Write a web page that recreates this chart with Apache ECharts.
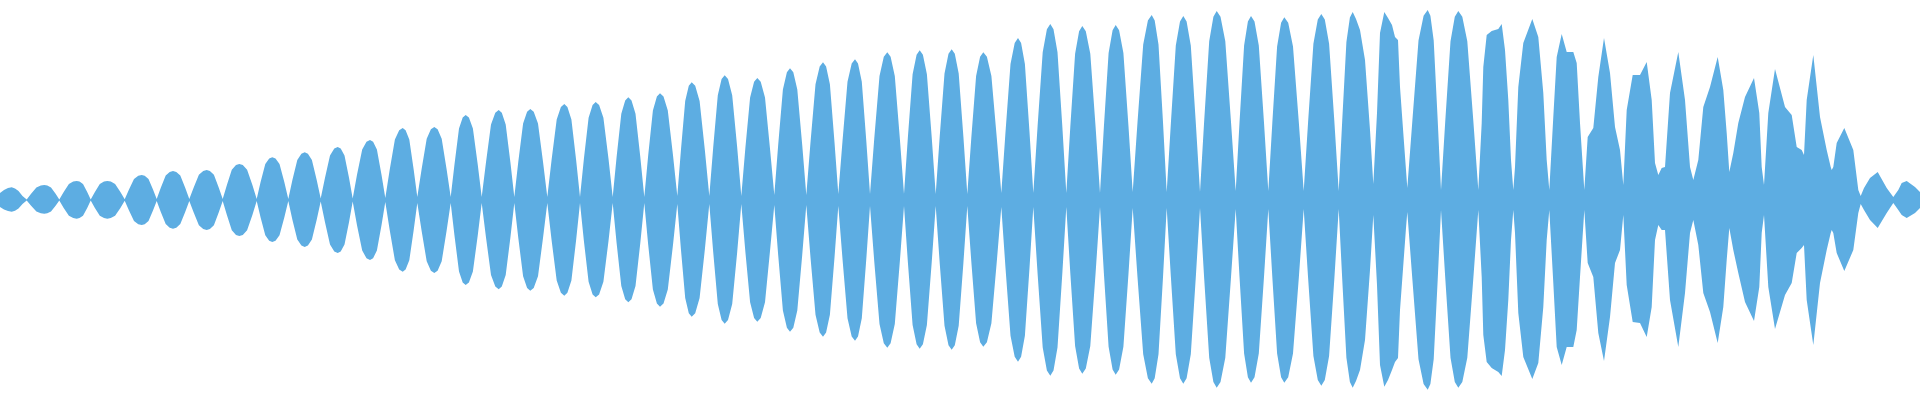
<!DOCTYPE html>
<html><head><meta charset="utf-8">
<style>html,body{margin:0;padding:0;background:#fff}#c{width:1920px;height:400px}</style>
<script src="https://cdn.jsdelivr.net/npm/echarts@6/dist/echarts.min.js"></script>
</head><body><div id="c"></div>
<script>
const sampleX = [
0,4,8,11.7,15,18.5,22.5,
26.7,31.1,36.4,40.8,44.3,47.3,51,55.6,
59.3,63.7,68.9,73.2,76.7,79.5,83,87.2,
90.7,94.9,99.8,104,107.3,110.8,115.1,120.4,
124.7,129,134,138.3,141.7,144.7,148.5,153,
156.7,160.8,165.7,169.7,173,176.3,180.3,185.2,
189.3,193.7,198.9,203.2,206.7,209.9,213.9,218.7,
222.7,226.9,231.8,236,239.3,242.8,247.1,252.4,
256.7,260.6,265.3,269.2,272.3,275.5,279.5,284.3,
288.3,292.4,297.3,301.4,304.7,307.9,311.9,316.7,
320.7,325,330,334.3,337.7,340.7,344.5,349,
352.7,357,362.2,366.5,370,373.1,376.9,381.5,
385.3,389.7,394.9,399.2,402.7,405.6,409.3,413.7,
417.3,421.6,426.7,430.9,434.3,437.6,441.7,446.6,
450.7,454.5,459,462.7,465.7,468.9,472.9,477.7,
481.7,486,491,495.3,498.7,501.8,505.7,510.4,
514.3,518.3,523.1,527.1,530.3,533.7,538,543,
547.3,551.6,556.7,560.9,564.3,567.4,571.4,576.1,
580,583.9,588.6,592.6,595.7,599.1,603.4,608.5,
612.7,616.6,621.3,625.2,628.3,631.5,635.5,640.3,
644.3,648.2,652.9,656.9,660,663.5,667.8,673,
677.3,680.9,685.2,688.8,691.7,695.2,699.6,704.9,
709.3,713.2,717.8,721.6,724.7,728,732.2,737.2,
741.3,745.3,750.1,754.1,757.3,760.7,765,770,
774.3,778.2,782.9,786.9,790,793.3,797.3,802.2,
806.3,810.5,815.5,819.7,823,826.1,829.9,834.5,
838.3,842.5,847.5,851.7,855,858,861.8,866.3,
870,874.3,879.5,883.8,887.3,890.6,894.8,899.8,
904,907.9,912.6,916.6,919.7,922.9,926.9,931.7,
935.7,939.7,944.5,948.5,951.7,954.8,958.7,963.4,
967.3,971.3,976.1,980.1,983.3,986.9,991.4,996.8,
1001.3,1005.5,1010.5,1014.7,1018,1021.1,1024.9,1029.5,
1033.3,1037.6,1042.7,1046.9,1050.3,1053.5,1057.5,1062.3,
1066.3,1070.3,1075.1,1079.1,1082.3,1085.8,1090.3,1095.6,
1100,1103.9,1108.6,1112.6,1115.7,1119.1,1123.4,1128.5,
1132.7,1137.5,1143.2,1147.9,1151.7,1154.7,1158.5,1163,
1166.7,1170.9,1175.8,1180,1183.3,1186.6,1190.8,1195.8,
1200,1204.2,1209.2,1213.4,1216.7,1220.5,1225.3,1230.9,
1235.7,1239.5,1244.1,1247.9,1251,1254.5,1258.8,1264,
1268.3,1272.3,1277.1,1281.1,1284.3,1288.2,1293,1298.9,
1303.7,1308.1,1313.4,1317.8,1321.3,1324.8,1329.1,1334.4,
1338.7,1342.2,1346.4,1349.9,1352.7,1356,1360,1365,1370,
1373.3,1377,1380,1384.3,1388,1392,1395,1398,1400,1403.3,1406,
1407.3,1412.4,1418.5,1423.6,1427.7,1430.4,1433.7,1437.7,
1441,1445.3,1450.5,1454.8,1458.3,1462.3,1467.3,1473.3,
1478.3,1481.7,1483.3,1486.7,1491.7,1498.3,1501.7,1505,1508.3,1511,
1513.3,1515,1518.3,1523.3,1532.3,1538.3,1543.3,1546.7,
1549.3,1553.3,1556.7,1561.7,1566.7,1573.3,1576.7,1580,
1584.3,1587.7,1593.3,1598.3,1604,1610,1615,1620,
1623.3,1626.7,1632.7,1640,1646.7,1651.7,1655,
1658.3,1661.7,1665,1670,1678.3,1685,1690,
1693.3,1698.3,1703.3,1710,1717.7,1723.3,1726.7,
1729.3,1733.3,1738.3,1745,1754,1759.3,1761.7,
1764,1768.3,1775,1785,1791.7,1796.7,1801.7,1804,
1806.7,1813.3,1820,1826.7,1830.7,
1831.7,1833.3,1836.7,1844.3,1853.3,1858.3,
1860.7,1864,1870,1877.7,1886.7,1893.3,
1894.5,1898.3,1901.7,1906.7,1915,1920
];
const upperEnvelope = [
7,10,12,12.7,11.5,9,4,
0.5,6.3,12.6,14.6,15,14.6,12.6,6.3,
0.5,8,16,18.4,19,18.4,16,8,
0.5,8,16,18.4,19,18.4,16,8,
0.7,10.5,21,24.3,25,24.3,21,10.5,
1,12.2,24.4,28.1,29,28.1,24.4,12.2,
1,12.6,25.2,29.1,30,29.1,25.2,12.6,
1,15.1,30.2,34.9,36,34.9,30.2,15.1,
1,17.9,35.9,41.4,42.7,41.4,35.9,17.9,
1,20,40.1,46.3,47.7,46.3,40.1,20,
1.5,22.3,44.5,51.4,53,51.4,44.5,22.3,
1.5,25.2,50.4,58.2,60,58.2,50.4,25.2,
2,30.2,60.5,69.8,72,69.8,60.5,30.2,
3,30.7,61.3,70.8,73,70.8,61.3,30.7,
3,35.7,71.4,82.5,85,82.5,71.4,35.7,
3,37.8,75.6,87.3,90,87.3,75.6,37.8,
3,38.2,76.4,88.3,91,88.3,76.4,38.2,
3,40.3,80.6,93.1,96,93.1,80.6,40.3,
3,41.2,82.3,95.1,98,95.1,82.3,41.2,
3,43.1,86.3,99.6,102.7,99.6,86.3,43.1,
3,44.8,89.6,103.5,106.7,103.5,89.6,44.8,
4,49.4,98.9,114.2,117.7,114.2,98.9,49.4,
4,52.4,104.7,121,124.7,121,104.7,52.4,
4,51.2,102.5,118.3,122,118.3,102.5,51.2,
5,55.3,110.6,127.7,131.7,127.7,110.6,55.3,
5,57.8,115.7,133.6,137.7,133.6,115.7,57.8,
6,59.1,118.2,136.5,140.7,136.5,118.2,59.1,
6,62,124.1,143.3,147.7,143.3,124.1,62,
6,62.9,125.7,145.2,149.7,145.2,125.7,62.9,
6,63.3,126.6,146.2,150.7,146.2,126.6,63.3,
6,62,124.1,143.3,147.7,143.3,124.1,62,
7,68,136.1,157.1,162,157.1,136.1,68,
7,73.9,147.8,170.7,176,170.7,147.8,73.9,
7,73.1,146.2,168.8,174,168.8,146.2,73.1,
7,73.5,147,169.8,175,169.8,147,73.5,
8,77.7,155.4,179.5,185,179.5,155.4,77.7,
8,77.3,154.6,178.5,184,178.5,154.6,77.3,
8,79.4,158.8,183.3,189,183.3,158.8,79.4,
9,77.3,154.6,178.5,184,178.5,154.6,77.3,
9,76.7,153.5,177.2,182.7,177.2,153.5,76.7,
9,78.1,156.2,180.4,186,180.4,156.2,78.1,
9,79,157.9,182.4,188,181,170,140,70,
16,87,167,188,182,175,163,160,113,67,30,
12,79.8,159.6,184.3,190,184.3,159.6,79.8,
10,79.4,158.8,183.3,189,183.3,158.8,79.4,
10,77,133,165,169,171,176,150,100,40,
10,33,113,157,181,163,107,40,
10,83,143,166,148,148,137,77,
10,63,72,123,162,127,73,50,
15,90,125,125,138,100,37,
25,32,33,107,148,100,33,
20,40,93,113,143,110,67,
28,47,77,103,122,87,33,
15,87,131,93,85,53,50,45,
100,145,83,50,33,
30,33,57,72,50,10,
4,12,22,28,12,3,
2,10,17,19,13,8
];
const lowerEnvelope = [
7,9.5,11,11.7,10.8,8.5,4,
0.5,5.8,11.5,13.3,13.7,13.3,11.5,5.8,
0.5,7.9,15.7,18.1,18.7,18.1,15.7,7.9,
0.5,7.9,15.7,18.1,18.7,18.1,15.7,7.9,
0.7,10.5,21,24.3,25,24.3,21,10.5,
1,12.1,24.1,27.8,28.7,27.8,24.1,12.1,
1,12.6,25.2,29.1,30,29.1,25.2,12.6,
1,15.1,30.2,34.9,36,34.9,30.2,15.1,
1,17.6,35.3,40.7,42,40.7,35.3,17.6,
1,19.7,39.5,45.6,47,45.6,39.5,19.7,
1.5,22.3,44.5,51.4,53,51.4,44.5,22.3,
1.5,25.2,50.4,58.2,60,58.2,50.4,25.2,
2,30.1,60.2,69.5,71.7,69.5,60.2,30.1,
3,30.7,61.3,70.8,73,70.8,61.3,30.7,
3,35.7,71.4,82.5,85,82.5,71.4,35.7,
3,37.5,75,86.6,89.3,86.6,75,37.5,
3,38.1,76.2,88,90.7,88,76.2,38.1,
3,40.2,80.4,92.8,95.7,92.8,80.4,40.2,
3,40.9,81.7,94.4,97.3,94.4,81.7,40.9,
3,43,85.9,99.2,102.3,99.2,85.9,43,
3,44.8,89.6,103.5,106.7,103.5,89.6,44.8,
4,49,98,113.2,116.7,113.2,98,49,
4,52,103.9,120,123.7,120,103.9,52,
4,51.1,102.2,118,121.7,118,102.2,51.1,
5,55.3,110.6,127.7,131.7,127.7,110.6,55.3,
5,57.4,114.8,132.6,136.7,132.6,114.8,57.4,
6,59.1,118.2,136.5,140.7,136.5,118.2,59.1,
6,62,124.1,143.3,147.7,143.3,124.1,62,
6,62.5,124.9,144.2,148.7,144.2,124.9,62.5,
6,62.9,125.7,145.2,149.7,145.2,125.7,62.9,
6,61.6,123.2,142.3,146.7,142.3,123.2,61.6,
7,67.9,135.8,156.8,161.7,156.8,135.8,67.9,
7,73.8,147.6,170.4,175.7,170.4,147.6,73.8,
7,73,145.9,168.5,173.7,168.5,145.9,73,
7,73.4,146.7,169.5,174.7,169.5,146.7,73.4,
8,77.2,154.3,178.2,183.7,178.2,154.3,77.2,
8,77.2,154.3,178.2,183.7,178.2,154.3,77.2,
8,78.8,157.7,182.1,187.7,182.1,157.7,78.8,
9,76.7,153.5,177.2,182.7,177.2,153.5,76.7,
9,76.7,153.5,177.2,182.7,177.2,153.5,76.7,
9,78,156,180.1,185.7,180.1,156,78,
9,78.8,157.7,182.1,187.7,181,170,140,70,
15,85,165,186.7,180,170,162,158,110,65,28,
12,79.7,159.3,184,189.7,184,159.3,79.7,
10,78.8,157.7,182.1,187.7,182.1,157.7,78.8,
10,77,135,162,168,172,176,150,100,40,
10,33,113,157,179,163,107,40,
10,83,147,165,147,147,130,77,
10,63,77,133,161,117,63,50,
15,85,122,123,137,107,40,
25,30,30,100,147,93,33,
20,45,93,112,143,107,60,
28,50,73,102,121,87,33,
15,87,129,95,83,53,48,45,
100,145,83,50,33,
30,33,53,71,50,13,
4,10,20,28,13,3,
2,10,15,18,13,8
];
const fillColor = '#5dade2';
const mk = (vals, sign) => ({
  type: 'line', data: sampleX.map((x, i) => [x, sign * vals[i]]),
  showSymbol: false, smooth: false, sampling: false,
  lineStyle: { width: 0 }, areaStyle: { color: fillColor, opacity: 1 }, silent: true, animation: false
});
const chart = echarts.init(document.getElementById('c'), null, { renderer: 'canvas' });
chart.setOption({
  animation: false,
  grid: { left: 0, right: 0, top: 0, bottom: 0 },
  xAxis: { type: 'value', min: 0, max: 1920, show: false },
  yAxis: { type: 'value', min: -200, max: 200, show: false },
  series: [mk(upperEnvelope, 1), mk(lowerEnvelope, -1)]
});
</script></body></html>
